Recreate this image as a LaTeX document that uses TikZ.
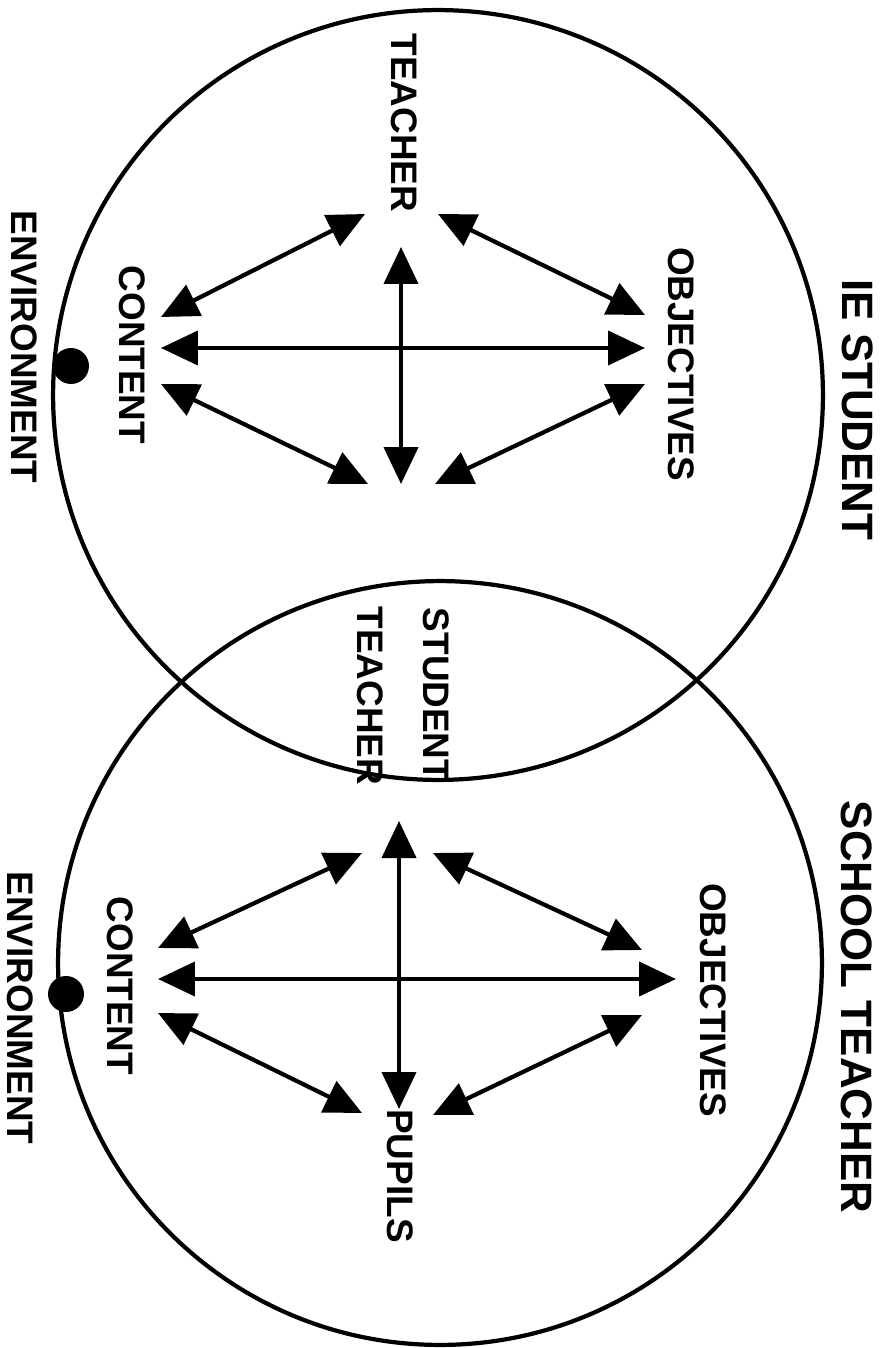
\documentclass[tikz,border=0pt]{standalone}
\usepackage{fontspec}
\setmainfont{Liberation Sans}
\usetikzlibrary{arrows.meta}
\tikzset{
  ring/.style={circle, draw, line width=2.4pt, minimum size=#1, inner sep=0pt},
  lbl/.style={rotate=-90, inner sep=0pt, font=\fontsize{21}{24}\selectfont\bfseries},
  ttl/.style={rotate=-90, inner sep=0pt, font=\fontsize{25}{30}\selectfont\bfseries},
  spot/.style={circle, fill, minimum size=0.72cm, inner sep=0pt},
  arr/.style={{Triangle[length=0.74cm, width=0.68cm]}-{Triangle[length=0.74cm, width=0.68cm]}, line width=2.4pt},
}

\begin{document}
\begin{tikzpicture}[x=0.02cm, y=-0.02cm]
  \useasboundingbox (0,0) rectangle (887,1348);

  % circles
  \node[ring=15.4cm] (ieCircle) at (438,395) {};
  \node[ring=15.28cm] (schoolCircle) at (440,963) {};

  % IE STUDENT
  \node[ttl] (ieStudent) at (858,410) {IE STUDENT};
  \node[lbl] (teacherA) at (404,123) {TEACHER};
  \node[lbl] (objA) at (681,364) {OBJECTIVES};
  \node[lbl] (contA) at (132,355) {CONTENT};
  \node[lbl] (envA) at (24,347) {ENVIRONMENT};
  \node[spot] (dotA) at (71,366) {};

  % overlap
  \node[lbl] (studentB) at (436,695) {STUDENT};
  \node[lbl] (teacherB) at (370,696) {TEACHER};

  % SCHOOL TEACHER
  \node[ttl] (school) at (857,1007) {SCHOOL TEACHER};
  \node[lbl] (objB) at (713,1000) {OBJECTIVES};
  \node[lbl] (contB) at (120,986) {CONTENT};
  \node[lbl] (envB) at (20,1008) {ENVIRONMENT};
  \node[lbl] (pupils) at (400,1176) {PUPILS};
  \node[spot] (dotB) at (66,994) {};

  % arrow ends, upper
  \coordinate (uN) at (401,247);
  \coordinate (uS) at (401,484);
  \coordinate (uW) at (161,348);
  \coordinate (uE) at (645,348);
  \coordinate (uNWa) at (365,214);
  \coordinate (uNWb) at (161,317);
  \coordinate (uNEa) at (438,214);
  \coordinate (uNEb) at (645,315);
  \coordinate (uSWa) at (161,384);
  \coordinate (uSWb) at (368,484);
  \coordinate (uSEa) at (645,384);
  \coordinate (uSEb) at (435,484);

  % arrow ends, lower
  \coordinate (lN) at (399,821);
  \coordinate (lS) at (399,1109);
  \coordinate (lW) at (158,979);
  \coordinate (lE) at (676,979);
  \coordinate (lNWa) at (362,853);
  \coordinate (lNWb) at (158,948);
  \coordinate (lNEa) at (433,853);
  \coordinate (lNEb) at (642,950);
  \coordinate (lSWa) at (158,1013);
  \coordinate (lSWb) at (362,1113);
  \coordinate (lSEa) at (642,1015);
  \coordinate (lSEb) at (433,1115);

  \draw[arr] (uN) -- (uS);
  \draw[arr] (uW) -- (uE);
  \draw[arr] (uNWa) -- (uNWb);
  \draw[arr] (uNEa) -- (uNEb);
  \draw[arr] (uSWa) -- (uSWb);
  \draw[arr] (uSEa) -- (uSEb);

  \draw[arr] (lN) -- (lS);
  \draw[arr] (lW) -- (lE);
  \draw[arr] (lNWa) -- (lNWb);
  \draw[arr] (lNEa) -- (lNEb);
  \draw[arr] (lSWa) -- (lSWb);
  \draw[arr] (lSEa) -- (lSEb);
\end{tikzpicture}
\end{document}
